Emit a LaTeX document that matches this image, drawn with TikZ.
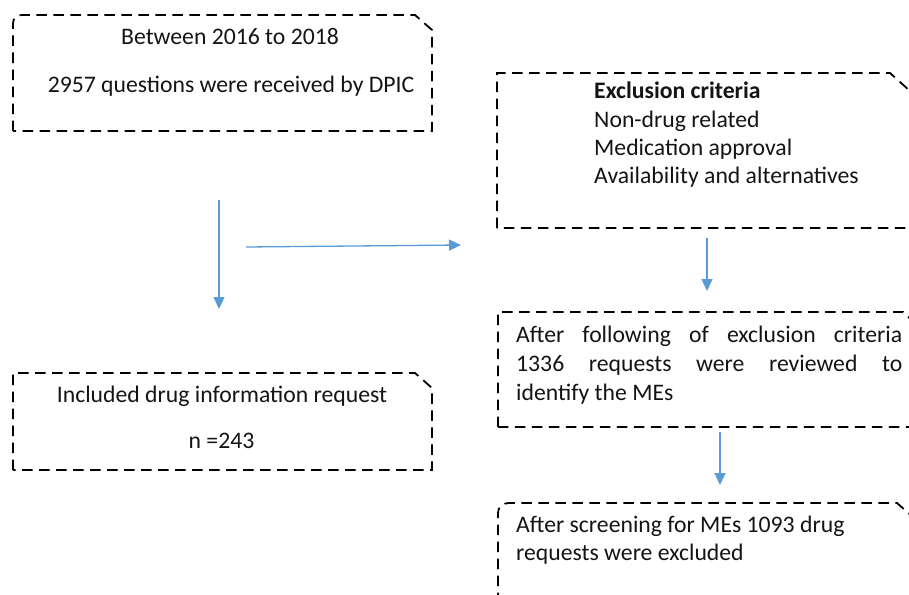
\documentclass[tikz,border=0pt]{standalone}
\usepackage{fontspec}
\setmainfont{Carlito}
\usetikzlibrary{arrows.meta}
\definecolor{arrowblue}{RGB}{91,155,213}
\definecolor{inkcol}{RGB}{20,20,20}
\tikzset{
  boxline/.style={draw=black, line width=1.8pt, dash pattern=on 10.5pt off 6.5pt},
  txt/.style={inner sep=0pt, text=inkcol, font=\fontsize{23.7}{28}\selectfont},
  flow/.style={draw=arrowblue, line width=1.3pt, -{Triangle[length=12pt,width=11pt]}}
}
\begin{document}
\begin{tikzpicture}[x=1pt,y=-1pt]
\useasboundingbox (0,0) rectangle (909,594);
\begin{scope}
\clip (0,0) rectangle (909,594);
% box 1
\draw[boxline] (13,131) -- (13,24) .. controls (13,18) and (16,15) .. (22,15) -- (415,15) -- (432,30) -- (432,131) -- cycle;
% box 5
\draw[boxline] (13,470) -- (13,373) -- (415,373) -- (432,388) -- (432,470) -- cycle;
% box 2
\draw[boxline] (497,228) -- (497,73) -- (890,73) -- (920,100) -- (920,228) -- cycle;
% box 3
\draw[boxline] (498,427) -- (498,312) -- (903,312) -- (920,328) -- (920,427) -- cycle;
% box 4
\draw[boxline] (498,620) -- (498,513) .. controls (498,507) and (502,503) .. (510,503) -- (897,503) -- (915,519) -- (915,620);
\end{scope}

% texts
\node[txt, anchor=base] (t1a) at (230,45) {Between 2016 to 2018};
\node[txt, anchor=base] (t1b) at (231,92) {2957 questions were received by DPIC};

\node[txt, anchor=base west] (t2a) at (594,98) {\bfseries Exclusion criteria};
\node[txt, anchor=base west] (t2b) at (594,127) {Non-drug related};
\node[txt, anchor=base west] (t2c) at (594,155) {Medication approval};
\node[txt, anchor=base west] (t2d) at (594,183) {Availability and alternatives};

\node[txt, anchor=base west] (t3a) at (516,342) {\makebox[386pt][s]{After following of exclusion criteria}};
\node[txt, anchor=base west] (t3b) at (516,371) {\makebox[386pt][s]{1336 requests were reviewed to}};
\node[txt, anchor=base west] (t3c) at (516,400) {identify the MEs};

\node[txt, anchor=base west] (t4a) at (516,532) {After screening for MEs 1093 drug};
\node[txt, anchor=base west] (t4b) at (516,560) {requests were excluded};

\node[txt, anchor=base] (t5a) at (222,402) {Included drug information request};
\node[txt, anchor=base] (t5b) at (221.5,448) {n =243};

% arrows
\coordinate (a1s) at (219,200);
\coordinate (a1e) at (219,309);
\coordinate (a2s) at (246,247);
\coordinate (a2e) at (461,245);
\coordinate (a3s) at (707,238);
\coordinate (a3e) at (707,291);
\coordinate (a4s) at (720,432);
\coordinate (a4e) at (720,485);
\draw[flow] (a1s) -- (a1e);
\draw[flow] (a2s) -- (a2e);
\draw[flow] (a3s) -- (a3e);
\draw[flow] (a4s) -- (a4e);
\end{tikzpicture}
\end{document}
